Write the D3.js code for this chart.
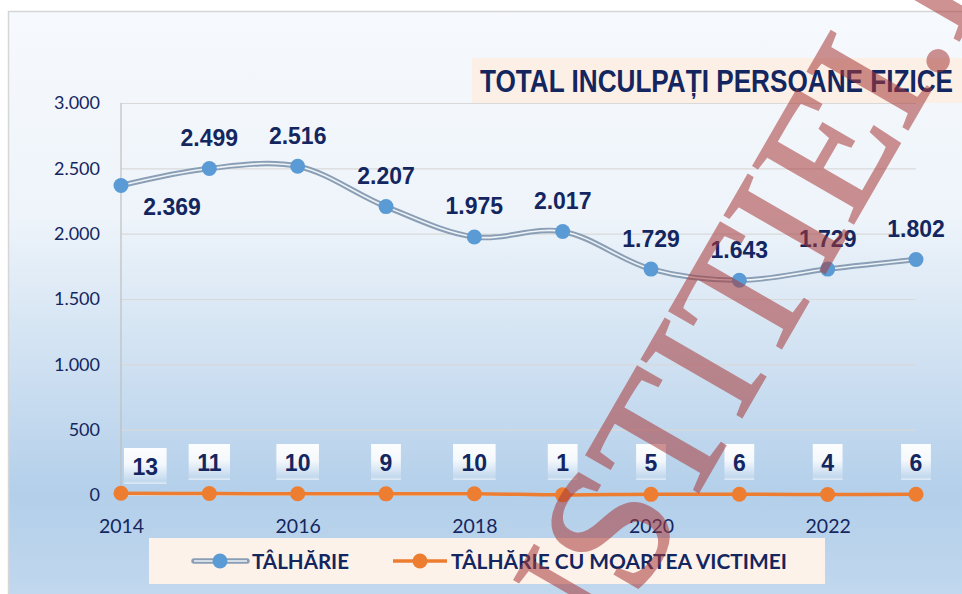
<!DOCTYPE html>
<html>
<head>
<meta charset="utf-8">
<script src="https://cdn.jsdelivr.net/npm/d3@7"></script>
<style>
  body { margin: 0; background: #fff; }
  svg { display: block; }
</style>
</head>
<body>
<svg id="chart"></svg>
<script>
// Chart data
const years = [2014, 2015, 2016, 2017, 2018, 2019, 2020, 2021, 2022, 2023];
const talharie = [2369, 2499, 2516, 2207, 1975, 2017, 1729, 1643, 1729, 1802];
const talharieMoarte = [13, 11, 10, 9, 10, 1, 5, 6, 4, 6];
const yTicks = [0, 500, 1000, 1500, 2000, 2500, 3000];
const xTicks = [2014, 2016, 2018, 2020, 2022];
const seriesNames = ["TÂLHĂRIE", "TÂLHĂRIE CU MOARTEA VICTIMEI"];
const chartTitle = "TOTAL INCULPAȚI PERSOANE FIZICE";
const watermarkHead = "JU";
const watermarkTail = "STITIEI.RO";

const width = 962, height = 594;
const navy = "#13265f";

const svg = d3.select("#chart")
    .attr("width", width)
    .attr("height", height);

// Background gradient of the chart area
const defs = svg.append("defs");
const bg = defs.append("linearGradient")
    .attr("id", "bg-grad")
    .attr("x1", 0).attr("y1", 0).attr("x2", 0).attr("y2", 1);
bg.append("stop").attr("offset", "0%").attr("stop-color", "#f6f9fd");
bg.append("stop").attr("offset", "33%").attr("stop-color", "#eef4fa");
bg.append("stop").attr("offset", "78%").attr("stop-color", "#b3cfea");
bg.append("stop").attr("offset", "100%").attr("stop-color", "#c6dbef");

const boxGrad = defs.append("linearGradient")
    .attr("id", "box-grad")
    .attr("x1", 0).attr("y1", 0).attr("x2", 0).attr("y2", 1);
boxGrad.append("stop").attr("offset", "0%").attr("stop-color", "#ffffff").attr("stop-opacity", 0.95);
boxGrad.append("stop").attr("offset", "45%").attr("stop-color", "#ffffff").attr("stop-opacity", 0.85);
boxGrad.append("stop").attr("offset", "92%").attr("stop-color", "#ffffff").attr("stop-opacity", 0.15);
boxGrad.append("stop").attr("offset", "100%").attr("stop-color", "#ffffff").attr("stop-opacity", 0.6);

svg.append("rect")
    .attr("x", 8.5).attr("y", 11.5)
    .attr("width", 1000).attr("height", 620)
    .attr("fill", "url(#bg-grad)")
    .attr("stroke", "#d6d6d6")
    .attr("stroke-width", 1.5);

// Scales
const x = d3.scaleLinear().domain([2014, 2023]).range([121, 916]);
const y = d3.scaleLinear().domain([0, 3000]).range([495, 103]);

const ro = d3.formatLocale({ decimal: ",", thousands: ".", grouping: [3], currency: ["", ""] });
const fmt = ro.format(",");

// Y axis with gridlines
const yAxis = svg.append("g")
    .attr("transform", "translate(121,0)")
    .call(d3.axisLeft(y)
        .tickValues(yTicks)
        .tickFormat(fmt)
        .tickSize(-(916 - 121))
        .tickPadding(21));
yAxis.select(".domain").remove();
yAxis.selectAll(".tick line")
    .attr("stroke", "#d9d9d9")
    .attr("stroke-width", 1.2);
yAxis.selectAll(".tick text")
    .attr("font-family", "Lato, 'Open Sans', sans-serif")
    .attr("font-size", "18px")
    .attr("fill", navy);

svg.append("line")
    .attr("x1", 121).attr("x2", 121)
    .attr("y1", y(3000)).attr("y2", y(0))
    .attr("stroke", "#bfbfbf")
    .attr("stroke-width", 1.2);

// X axis labels
const xAxis = svg.append("g")
    .attr("transform", `translate(0,${y(0)})`)
    .call(d3.axisBottom(x)
        .tickValues(xTicks)
        .tickFormat(d3.format("d"))
        .tickSize(0)
        .tickPadding(24));
xAxis.select(".domain").remove();
xAxis.selectAll(".tick text")
    .attr("font-family", "Lato, 'Open Sans', sans-serif")
    .attr("font-size", "19.5px")
    .attr("fill", navy);

// Series lines
const line = d3.line()
    .x((d, i) => x(years[i]))
    .y(d => y(d))
    .curve(d3.curveCatmullRom.alpha(0.5));

svg.append("path")
    .datum(talharieMoarte)
    .attr("d", line)
    .attr("fill", "none")
    .attr("stroke", "#ed7d31")
    .attr("stroke-width", 3.5);

svg.append("path")
    .datum(talharie)
    .attr("d", line)
    .attr("fill", "none")
    .attr("stroke", "#8a9fb5")
    .attr("stroke-width", 5.5);
svg.append("path")
    .datum(talharie)
    .attr("d", line)
    .attr("fill", "none")
    .attr("stroke", "#eef3f8")
    .attr("stroke-width", 1.6);

svg.selectAll(".dot-a")
    .data(talharie)
    .enter()
    .append("circle")
    .attr("class", "dot-a")
    .attr("cx", (d, i) => x(years[i]))
    .attr("cy", d => y(d))
    .attr("r", 7.5)
    .attr("fill", "#5b9bd5");

svg.selectAll(".dot-b")
    .data(talharieMoarte)
    .enter()
    .append("circle")
    .attr("class", "dot-b")
    .attr("cx", (d, i) => x(years[i]))
    .attr("cy", d => y(d))
    .attr("r", 7.5)
    .attr("fill", "#ed7d31");

// Data labels for the first series
svg.selectAll(".label-a")
    .data(talharie)
    .enter()
    .append("text")
    .attr("class", "label-a")
    .attr("x", (d, i) => x(years[i]) + (i === 0 ? 51 : 0))
    .attr("y", (d, i) => y(d) + (i === 0 ? 30 : -22.5))
    .attr("text-anchor", "middle")
    .attr("font-family", "'Liberation Sans', Arial, sans-serif")
    .attr("font-weight", "bold")
    .attr("font-size", "23px")
    .attr("fill", navy)
    .text(d => fmt(d));

// Data labels with boxes for the second series
const labelsB = svg.selectAll(".label-b")
    .data(talharieMoarte)
    .enter()
    .append("g")
    .attr("class", "label-b");

labelsB.append("rect")
    .attr("fill", "url(#box-grad)");
labelsB.append("text")
    .attr("text-anchor", "middle")
    .attr("font-family", "'Liberation Sans', Arial, sans-serif")
    .attr("font-weight", "bold")
    .attr("font-size", "23px")
    .attr("fill", navy)
    .text(d => d);

labelsB.each(function(d, i) {
    const g = d3.select(this);
    const w = g.select("text").node().getComputedTextLength() + 17;
    let cx = x(years[i]);
    let top = y(0) - 51;
    if (i === 0) {
        cx = x(years[i]) + 3 + w / 2;
        top += 4;
    }
    g.select("rect")
        .attr("x", cx - w / 2).attr("y", top)
        .attr("width", w).attr("height", 36);
    g.select("text")
        .attr("x", cx).attr("y", top + 27);
});

// Title
svg.append("rect")
    .attr("x", 472).attr("y", 58)
    .attr("width", 500).attr("height", 45)
    .attr("fill", "#fcefe5");
svg.append("text")
    .attr("x", 480).attr("y", 92)
    .attr("font-family", "'Liberation Sans Narrow', 'Liberation Sans', Arial, sans-serif")
    .attr("font-weight", "bold")
    .attr("font-size", "31px")
    .attr("textLength", 473)
    .attr("lengthAdjust", "spacingAndGlyphs")
    .attr("fill", navy)
    .text(chartTitle);

// Legend
svg.append("rect")
    .attr("x", 149).attr("y", 538)
    .attr("width", 676).attr("height", 46)
    .attr("fill", "#fdf2ea");

const legendY = 561;
svg.append("line")
    .attr("x1", 194).attr("x2", 247)
    .attr("y1", legendY).attr("y2", legendY)
    .attr("stroke", "#8a9fb5").attr("stroke-width", 5.5).attr("stroke-linecap", "round");
svg.append("line")
    .attr("x1", 194).attr("x2", 247)
    .attr("y1", legendY).attr("y2", legendY)
    .attr("stroke", "#eef3f8").attr("stroke-width", 1.6);
svg.append("circle")
    .attr("cx", 220).attr("cy", legendY).attr("r", 7.5).attr("fill", "#5b9bd5");

svg.append("line")
    .attr("x1", 393).attr("x2", 447)
    .attr("y1", legendY).attr("y2", legendY)
    .attr("stroke", "#ed7d31").attr("stroke-width", 3.5);
svg.append("circle")
    .attr("cx", 420).attr("cy", legendY).attr("r", 7.5).attr("fill", "#ed7d31");

const legendText = [
    { name: seriesNames[0], x: 252, w: 97 },
    { name: seriesNames[1], x: 451, w: 336 }
];
svg.selectAll(".legend-text")
    .data(legendText)
    .enter()
    .append("text")
    .attr("class", "legend-text")
    .attr("x", d => d.x)
    .attr("y", legendY + 7.5)
    .attr("font-family", "Lato, 'Open Sans', sans-serif")
    .attr("font-weight", "bold")
    .attr("font-size", "21px")
    .attr("textLength", d => d.w)
    .attr("lengthAdjust", "spacingAndGlyphs")
    .attr("fill", navy)
    .text(d => d.name);

// Watermark over the chart, split at the S so it is easy to place
const wm = svg.append("g")
    .attr("transform", "translate(636,600) rotate(-60)")
    .attr("font-family", "'Liberation Serif', 'DejaVu Serif', serif")
    .attr("font-size", "176px")
    .attr("fill", "#a83a3a")
    .attr("stroke", "#a83a3a")
    .attr("stroke-width", 2.5)
    .attr("opacity", 0.55);
wm.append("text")
    .attr("text-anchor", "end")
    .text(watermarkHead);
wm.append("text")
    .attr("text-anchor", "start")
    .text(watermarkTail);
</script>
</body>
</html>
